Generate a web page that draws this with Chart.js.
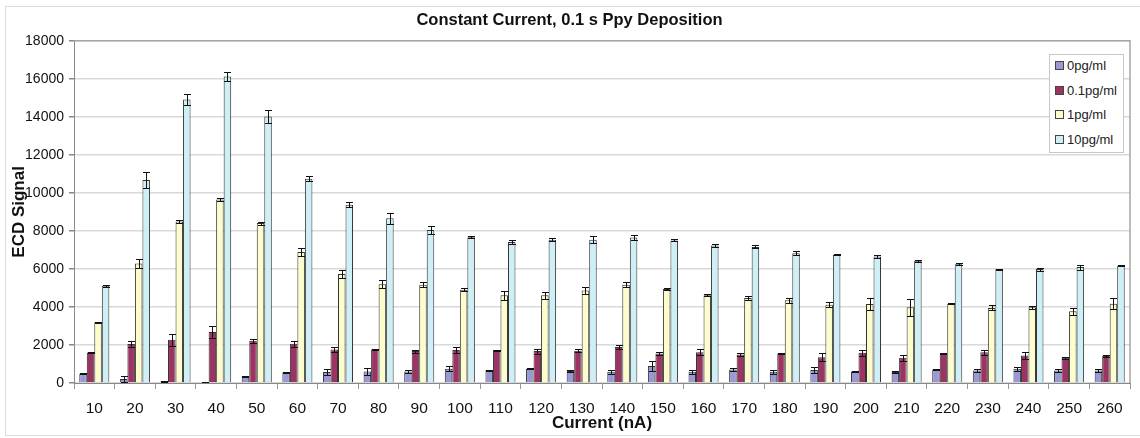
<!DOCTYPE html>
<html>
<head>
<meta charset="utf-8">
<script src="https://cdn.jsdelivr.net/npm/chart.js@4.4.1/dist/chart.umd.min.js"></script>
<style>
  html, body { margin: 0; padding: 0; background: #fff; }
  #wrap { position: relative; width: 1140px; height: 438px; font-family: "Liberation Sans", Arial, sans-serif; }
  #frame { position: absolute; left: 5px; top: 6px; width: 1150px; height: 430px; border: 1px solid #dcdcdc; box-sizing: border-box; }
  #legend { position: absolute; left: 1049px; top: 54px; width: 75px; height: 99px; border: 1px solid #c8c8c8; background: #fff; box-sizing: border-box; }
  .item { position: absolute; left: 5px; font-size: 13px; color: #222; line-height: 14px; }
  .sw { display: inline-block; width: 7px; height: 7px; border: 1px solid #444; margin-right: 3px; vertical-align: 0px; }
</style>
</head>
<body>
<div id="wrap">
  <div id="frame"></div>
  <canvas id="chart" width="1140" height="438"></canvas>
  <div id="legend"></div>
</div>
<script>
const categories = ['10', '20', '30', '40', '50', '60', '70', '80', '90', '100', '110', '120', '130',
  '140', '150', '160', '170', '180', '190', '200', '210', '220', '230', '240', '250', '260'];

const seriesNames = ['0pg/ml', '0.1pg/ml', '1pg/ml', '10pg/ml'];

const zeroPg = [480, 210, 90, 50, 320, 560, 580, 600, 610, 750, 680, 750, 630, 590, 890, 590, 710, 590, 680, 610, 580, 710, 660, 750, 660, 660];
const zeroPgErr = [30, 150, 20, 20, 30, 30, 150, 200, 60, 120, 30, 30, 30, 120, 260, 100, 100, 100, 150, 30, 30, 30, 100, 100, 80, 80];

const pointOnePg = [1600, 2050, 2270, 2680, 2220, 2060, 1760, 1760, 1680, 1730, 1730, 1680, 1700, 1900, 1550, 1620, 1500, 1540, 1360, 1590, 1330, 1540, 1620, 1450, 1330, 1420];
const pointOnePgErr = [40, 150, 330, 300, 120, 150, 150, 30, 80, 150, 30, 130, 80, 100, 80, 150, 80, 30, 200, 150, 150, 30, 130, 200, 60, 30];

const onePg = [3200, 6290, 8500, 9650, 8410, 6890, 5730, 5200, 5170, 4910, 4610, 4610, 4870, 5170, 4940, 4610, 4470, 4350, 4120, 4160, 3980, 4160, 3950, 3980, 3770, 4170];
const onePgErr = [30, 240, 100, 80, 80, 230, 230, 200, 120, 80, 230, 200, 180, 120, 50, 60, 120, 120, 120, 300, 450, 30, 130, 80, 170, 300];

const tenPg = [5120, 10680, 14910, 16120, 14020, 10750, 9370, 8660, 8050, 7670, 7420, 7530, 7530, 7650, 7500, 7230, 7160, 6830, 6740, 6660, 6430, 6250, 5990, 5990, 6100, 6170];
const tenPgErr = [50, 400, 280, 260, 330, 120, 130, 290, 200, 50, 100, 80, 180, 120, 50, 80, 80, 100, 30, 80, 50, 40, 30, 80, 130, 40];

const colors = ['#9a99d8', '#9c3363', '#fdfccc', '#cdeff5'];
const allValues = [zeroPg, pointOnePg, onePg, tenPg];
const allErrors = [zeroPgErr, pointOnePgErr, onePgErr, tenPgErr];

// error bars drawn with the y scale of the chart
const errorBars = {
  id: 'errorBars',
  afterDatasetsDraw(chart) {
    const ctx = chart.ctx;
    const y = chart.scales.y;
    ctx.save();
    ctx.strokeStyle = '#111';
    ctx.lineWidth = 1;
    chart.data.datasets.forEach((ds, i) => {
      const meta = chart.getDatasetMeta(i);
      meta.data.forEach((bar, j) => {
        const v = ds.data[j];
        const e = ds.errors[j];
        const top = Math.round(y.getPixelForValue(v + e)) + 0.5;
        const bot = Math.round(y.getPixelForValue(Math.max(0, v - e))) + 0.5;
        const x = Math.round(bar.x) + 0.5;
        ctx.beginPath();
        ctx.moveTo(x, top); ctx.lineTo(x, bot);
        ctx.moveTo(x - 3.5, top); ctx.lineTo(x + 3.5, top);
        ctx.moveTo(x - 3.5, bot); ctx.lineTo(x + 3.5, bot);
        ctx.stroke();
      });
    });
    ctx.restore();
  }
};

const plotBorder = {
  id: 'plotBorder',
  beforeDatasetsDraw(chart) {
    const a = chart.chartArea;
    const ctx = chart.ctx;
    ctx.save();
    ctx.strokeStyle = '#a6a6a6';
    ctx.lineWidth = 1.5;
    ctx.beginPath();
    ctx.moveTo(a.left, a.top); ctx.lineTo(a.right, a.top); ctx.lineTo(a.right, a.bottom);
    ctx.stroke();
    ctx.restore();
  }
};

const fontFamily = '"Liberation Sans", Arial, sans-serif';

new Chart(document.getElementById('chart'), {
  type: 'bar',
  data: {
    labels: categories,
    datasets: seriesNames.map((name, i) => ({
      label: name,
      data: allValues[i],
      errors: allErrors[i],
      backgroundColor: colors[i],
      borderColor: '#333',
      borderWidth: 1,
      categoryPercentage: 0.74,
      barPercentage: 1.0
    }))
  },
  options: {
    responsive: false,
    animation: false,
    layout: { padding: { left: 9, right: 10, top: 0, bottom: 4 } },
    plugins: {
      legend: { display: false },
      tooltip: { enabled: false },
      title: {
        display: true,
        text: 'Constant Current, 0.1 s Ppy Deposition',
        color: '#111',
        font: { family: fontFamily, size: 16.5, weight: 'bold' },
        padding: { top: 11, bottom: 10 }
      }
    },
    scales: {
      x: {
        grid: { display: true, drawOnChartArea: false, tickLength: 6, color: '#999', offset: true },
        border: { color: '#888', width: 1 },
        ticks: { color: '#111', font: { family: fontFamily, size: 15.5 }, padding: 10, maxRotation: 0, autoSkip: false },
        title: { display: true, text: 'Current (nA)', color: '#111', font: { family: fontFamily, size: 17, weight: 'bold' }, padding: { top: 0, bottom: 0 } },
        afterFit(scale) { scale.height = 51; }
      },
      y: {
        min: 0,
        max: 18000,
        ticks: {
          stepSize: 2000, color: '#111', font: { family: fontFamily, size: 14 }, padding: 5,
          callback: (v) => String(v)
        },
        grid: { color: '#d9d9d9', lineWidth: 1.5, tickLength: 5, tickColor: '#888' },
        border: { color: '#888', width: 1 },
        title: { display: true, text: 'ECD Signal', color: '#111', font: { family: fontFamily, size: 17, weight: 'bold' }, padding: 0 },
        afterFit(scale) { scale.width = 65; }
      }
    }
  },
  plugins: [plotBorder, errorBars]
});

const legend = document.getElementById('legend');
seriesNames.forEach((name, i) => {
  const item = document.createElement('div');
  item.className = 'item';
  item.style.top = (4 + i * 24.5) + 'px';
  item.innerHTML = '<span class="sw" style="background:' + colors[i] + '"></span>' + name;
  legend.appendChild(item);
});
</script>
</body>
</html>
